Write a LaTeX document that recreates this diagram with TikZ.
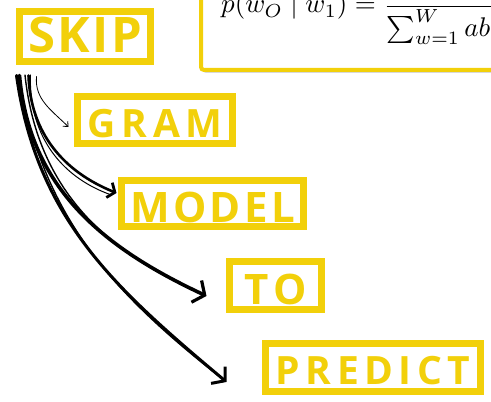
\documentclass[tikz,border=0pt]{standalone}
\usepackage{amsmath}
\usepackage{fontspec}
\usetikzlibrary{arrows.meta, shadows}
\newfontfamily\boxfont{Open Sans}
\definecolor{skipyellow}{HTML}{F2D00A}

\begin{document}
\begin{tikzpicture}[x=1pt, y=1pt,
  wordbox/.style={draw=skipyellow, line width=7pt, text=skipyellow, inner sep=0pt, text depth=0pt},
  brush/.style={line width=#1, line cap=round},
]
\clip (0,0) rectangle (491,402);
\fill[white] (0,0) rectangle (491,402);

% formula card, cut by the page edge
\draw[skipyellow, line width=4pt, rounded corners=3pt, fill=white,
  drop shadow={shadow xshift=2pt, shadow yshift=-3pt, opacity=0.3}] (201,332) rectangle (560,450);
\node[anchor=base west, inner sep=0pt] (formula) at (221,389)
  {\scalebox{2.7}{$\displaystyle p(w_O \mid w_1) = \frac{\exp(v'_{w_O}{}^{\top} v_{w_1})}{\sum_{w=1}^{W} abs(v'_{w}{}^{\top} v_{w_1})}$}};

% word boxes
\foreach \name/\bx/\by/\bw/\bh/\bt/\fsz/\ls/\lab in {
    skip/85/365.5/131/50/33/49/5/SKIP,
    gram/155/282/155/47/36/39/15/GRAM,
    model/212.5/198.5/182/46/39/42/8/MODEL,
    to/275.5/116.5/92/48/39/42/12/TO,
    predict/373/34.5/215/48/35/39/14/PREDICT} {
  \node[wordbox, minimum width=\bw pt, minimum height=\bh pt, text height=\bt pt,
    font=\boxfont\bfseries\addfontfeatures{LetterSpace=\ls}\fontsize{\fsz}{\fsz}\selectfont] (\name) at (\bx,\by) {\lab};
}

% brush arrows
\draw[brush=0.8pt, -{Straight Barb[length=4pt, width=7pt]}]
  ([shift={(20.5,-11.5)}]skip.south west) to[out=-95, in=135] ([shift={(-5.5,-7)}]gram.west);
\draw[brush=1pt] ([shift={(14.5,-10)}]skip.south west) to[out=-92, in=160] ([shift={(-8,9)}]model.west);
\draw[brush=2.6pt, -{Straight Barb[length=6pt, width=16pt, line width=2.8pt]}]
  ([shift={(12.5,-10.5)}]skip.south west) to[out=-88, in=158] ([shift={(-1.5,10.5)}]model.west);
\draw[brush=1.4pt] ([shift={(9,-10)}]skip.south west) to[out=-84, in=157] ([shift={(-24,-8)}]to.west);
\draw[brush=3.6pt, -{Straight Barb[length=9pt, width=24pt, line width=3.2pt]}]
  ([shift={(3.5,-10.5)}]skip.south west) to[out=-85, in=155] ([shift={(-19.5,-10.5)}]to.west);
\draw[brush=1.4pt] ([shift={(2,-10)}]skip.south west) to[out=-80, in=142] ([shift={(-40,-11)}]predict.west);
\draw[brush=3pt, -{Straight Barb[length=9pt, width=22pt, line width=3pt]}]
  ([shift={(0.5,-10.5)}]skip.south west) to[out=-82, in=140] ([shift={(-35.5,-14.5)}]predict.west);
\end{tikzpicture}
\end{document}
